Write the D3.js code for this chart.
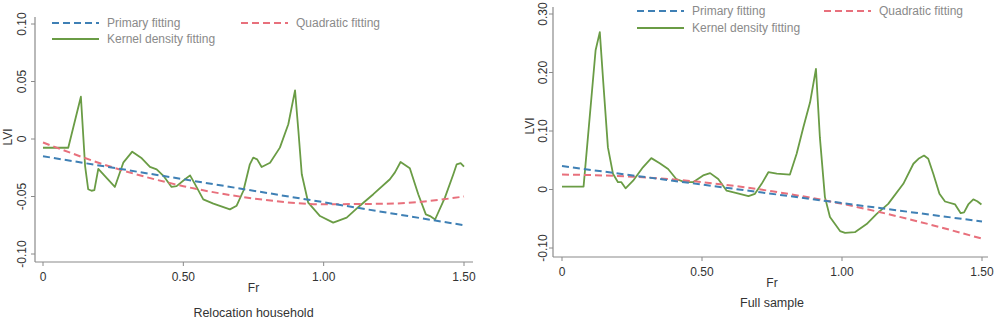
<!DOCTYPE html>
<html>
<head>
<meta charset="utf-8">
<script src="https://cdn.jsdelivr.net/npm/d3@7"></script>
<style>
  body { margin: 0; background: #fff; }
  svg { display: block; font-family: "Liberation Sans", Arial, sans-serif; }
</style>
</head>
<body>
<div id="chart"></div>
<script>
const xTicks = [0, 0.5, 1.0, 1.5];
const xTickLabels = ["0", "0.50", "1.00", "1.50"];

// Relocation household (left)
const leftYTicks = [-0.10, -0.05, 0, 0.05, 0.10];
const leftYTickLabels = ["-0.10", "-0.05", "0", "0.05", "0.10"];
const leftPrimary = [[0, -0.015], [0.5, -0.035], [1.0, -0.055], [1.5, -0.075]];
const leftQuadratic = [[0, -0.003], [0.25, -0.0248], [0.5, -0.041], [0.75, -0.0517],
    [1.0, -0.0567], [1.25, -0.0561], [1.5, -0.050]];
const leftKernel = [
    [0, -0.0076], [0.09, -0.0076], [0.135, 0.0368], [0.15, -0.0235], [0.161, -0.0437],
    [0.173, -0.045], [0.183, -0.0445], [0.197, -0.026], [0.256, -0.0417], [0.286, -0.0206],
    [0.318, -0.011], [0.352, -0.0168], [0.381, -0.0243], [0.405, -0.0264], [0.429, -0.032],
    [0.458, -0.0417], [0.476, -0.041], [0.506, -0.035], [0.524, -0.0316], [0.541, -0.039],
    [0.571, -0.0525], [0.607, -0.0562], [0.666, -0.0612], [0.69, -0.058], [0.714, -0.045],
    [0.737, -0.022], [0.749, -0.0162], [0.763, -0.0177], [0.779, -0.0243], [0.809, -0.0206],
    [0.844, -0.0075], [0.874, 0.0128], [0.898, 0.0423], [0.91, 0.007], [0.922, -0.0307],
    [0.945, -0.0554], [0.987, -0.067], [1.034, -0.0727], [1.082, -0.0684], [1.129, -0.058],
    [1.177, -0.048], [1.236, -0.035], [1.254, -0.029], [1.274, -0.020], [1.307, -0.0255],
    [1.337, -0.048], [1.364, -0.0655], [1.379, -0.067], [1.397, -0.070], [1.432, -0.051],
    [1.462, -0.0307], [1.474, -0.022], [1.488, -0.021], [1.50, -0.024]
];

// Full sample (right)
const rightYTicks = [-0.10, 0, 0.10, 0.20, 0.30];
const rightYTickLabels = ["-0.10", "0", "0.10", "0.20", "0.30"];
const rightPrimary = [[0, 0.040], [0.5, 0.0084], [1.0, -0.0232], [1.5, -0.0547]];
const rightQuadratic = [[0, 0.0256], [0.25, 0.022], [0.5, 0.0125], [0.75, -0.003],
    [1.0, -0.0245], [1.25, -0.052], [1.5, -0.084]];
const rightKernel = [
    [0, 0.005], [0.077, 0.005], [0.12, 0.238], [0.135, 0.269], [0.147, 0.186],
    [0.164, 0.072], [0.182, 0.027], [0.2, 0.0125], [0.212, 0.0125], [0.227, 0.002],
    [0.254, 0.015], [0.289, 0.038], [0.319, 0.0536], [0.349, 0.045], [0.379, 0.035],
    [0.408, 0.018], [0.438, 0.0125], [0.468, 0.0125], [0.504, 0.024], [0.529, 0.028],
    [0.558, 0.018], [0.588, -0.002], [0.624, -0.006], [0.666, -0.0114], [0.689, -0.0074],
    [0.713, 0.0097], [0.737, 0.0296], [0.767, 0.027], [0.814, 0.0256], [0.838, 0.061],
    [0.862, 0.1065], [0.886, 0.149], [0.907, 0.206], [0.921, 0.089], [0.939, -0.013],
    [0.957, -0.047], [0.993, -0.071], [1.011, -0.074], [1.046, -0.073], [1.088, -0.059],
    [1.124, -0.0416], [1.165, -0.0245], [1.219, 0.0097], [1.255, 0.044], [1.273, 0.0525],
    [1.293, 0.058], [1.308, 0.0525], [1.326, 0.027], [1.348, -0.0074], [1.368, -0.0205],
    [1.404, -0.0256], [1.424, -0.0405], [1.436, -0.039], [1.451, -0.0256], [1.469, -0.017],
    [1.483, -0.020], [1.498, -0.0256]
];

const seriesNames = ["Primary fitting", "Quadratic fitting", "Kernel density fitting"];
const colors = { primary: "#3f80b5", quadratic: "#e8707c", kernel: "#6a9c45" };

const width = 996, height = 319;
const svg = d3.select("#chart").append("svg")
    .attr("width", width)
    .attr("height", height);

function drawPanel(p) {
    const g = svg.append("g");
    const x = d3.scaleLinear().domain([0, 1.5]).range(p.xRange);
    const y = d3.scaleLinear().domain(p.yDomain).range(p.yRange);

    // axis lines
    g.append("line")
        .attr("x1", p.axisLeft).attr("x2", p.axisLeft)
        .attr("y1", p.axisTop).attr("y2", p.axisBottom)
        .attr("stroke", "#8a8a8a").attr("stroke-width", 1.2);
    g.append("line")
        .attr("x1", p.axisLeft).attr("x2", p.axisRight)
        .attr("y1", p.axisBottom).attr("y2", p.axisBottom)
        .attr("stroke", "#8a8a8a").attr("stroke-width", 1.2);

    // y ticks
    g.selectAll(".ytick").data(p.yTicks).enter().append("line")
        .attr("x1", p.axisLeft - 4).attr("x2", p.axisLeft)
        .attr("y1", d => y(d)).attr("y2", d => y(d))
        .attr("stroke", "#8a8a8a");
    g.selectAll(".ylab").data(p.yTicks).enter().append("text")
        .attr("transform", d => `translate(${p.axisLeft - p.yLabelGap},${y(d)}) rotate(-90)`)
        .attr("text-anchor", "middle")
        .attr("font-size", 12)
        .attr("fill", "#333")
        .text((d, i) => p.yTickLabels[i]);

    // x ticks
    g.selectAll(".xtick").data(xTicks).enter().append("line")
        .attr("x1", d => x(d)).attr("x2", d => x(d))
        .attr("y1", p.axisBottom).attr("y2", p.axisBottom + 4)
        .attr("stroke", "#8a8a8a");
    g.selectAll(".xlab").data(xTicks).enter().append("text")
        .attr("x", d => x(d))
        .attr("y", p.axisBottom + 19)
        .attr("text-anchor", "middle")
        .attr("font-size", 12)
        .attr("fill", "#333")
        .text((d, i) => xTickLabels[i]);

    // axis titles
    g.append("text")
        .attr("transform", `translate(${p.yTitleX},${p.yTitleY}) rotate(-90)`)
        .attr("text-anchor", "middle")
        .attr("font-size", 12)
        .attr("fill", "#333")
        .text("LVI");
    g.append("text")
        .attr("x", (p.xRange[0] + p.xRange[1]) / 2)
        .attr("y", p.xTitleY)
        .attr("text-anchor", "middle")
        .attr("font-size", 12)
        .attr("fill", "#333")
        .text("Fr");
    g.append("text")
        .attr("x", (p.xRange[0] + p.xRange[1]) / 2)
        .attr("y", p.captionY)
        .attr("text-anchor", "middle")
        .attr("font-size", 12.5)
        .attr("fill", "#333")
        .text(p.caption);

    const line = d3.line().x(d => x(d[0])).y(d => y(d[1]));
    const smooth = d3.line().x(d => x(d[0])).y(d => y(d[1])).curve(d3.curveMonotoneX);

    g.append("path").datum(p.kernel)
        .attr("d", line)
        .attr("fill", "none")
        .attr("stroke", colors.kernel)
        .attr("stroke-width", 1.8)
        .attr("stroke-linejoin", "round");
    g.append("path").datum(p.quadratic)
        .attr("d", smooth)
        .attr("fill", "none")
        .attr("stroke", colors.quadratic)
        .attr("stroke-width", 2)
        .attr("stroke-dasharray", "7,4");
    g.append("path").datum(p.primary)
        .attr("d", line)
        .attr("fill", "none")
        .attr("stroke", colors.primary)
        .attr("stroke-width", 2)
        .attr("stroke-dasharray", "7,4");

    // legend
    const leg = [
        { name: seriesNames[0], color: colors.primary, dash: "7,4", x: p.legX1, y: p.legY1 },
        { name: seriesNames[1], color: colors.quadratic, dash: "7,4", x: p.legX2, y: p.legY1 },
        { name: seriesNames[2], color: colors.kernel, dash: null, x: p.legX1, y: p.legY2 }
    ];
    leg.forEach(l => {
        g.append("line")
            .attr("x1", l.x).attr("x2", l.x + 47)
            .attr("y1", l.y).attr("y2", l.y)
            .attr("stroke", l.color)
            .attr("stroke-width", l.dash ? 2 : 1.8)
            .attr("stroke-dasharray", l.dash);
        g.append("text")
            .attr("x", l.x + 55)
            .attr("y", l.y)
            .attr("dy", "0.35em")
            .attr("font-size", 12)
            .attr("fill", "#8a8a8a")
            .text(l.name);
    });
}

drawPanel({
    xRange: [43, 464], yDomain: [-0.10, 0.10], yRange: [254, 24],
    axisLeft: 35, axisRight: 473, axisTop: 17, axisBottom: 262,
    yTicks: leftYTicks, yTickLabels: leftYTickLabels, yLabelGap: 9,
    yTitleX: 12, yTitleY: 137, xTitleY: 292, captionY: 317,
    caption: "Relocation household",
    primary: leftPrimary, quadratic: leftQuadratic, kernel: leftKernel,
    legX1: 52, legX2: 241, legY1: 23, legY2: 39
});

drawPanel({
    xRange: [562, 982], yDomain: [-0.10, 0.30], yRange: [248, 14],
    axisLeft: 553, axisRight: 988, axisTop: 7, axisBottom: 257,
    yTicks: rightYTicks, yTickLabels: rightYTickLabels, yLabelGap: 6,
    yTitleX: 534, yTitleY: 126, xTitleY: 287, captionY: 307,
    caption: "Full sample",
    primary: rightPrimary, quadratic: rightQuadratic, kernel: rightKernel,
    legX1: 637, legX2: 824, legY1: 11, legY2: 28
});
</script>
</body>
</html>
